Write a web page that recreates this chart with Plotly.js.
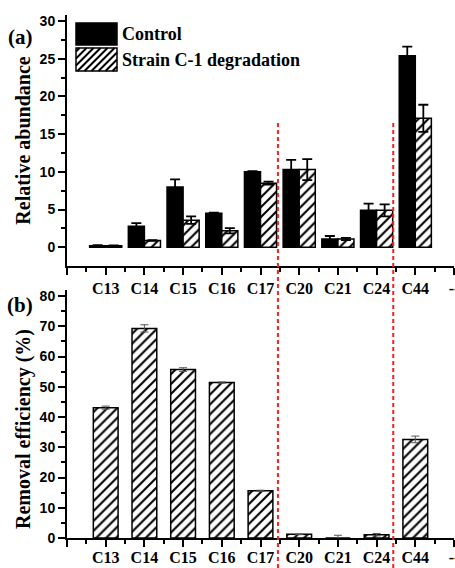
<!DOCTYPE html>
<html>
<head>
<meta charset="utf-8">
<script src="https://cdn.plot.ly/plotly-3.0.1.min.js"></script>
<style>html,body{margin:0;padding:0;background:#fff;}#chart{width:455px;height:568px;}</style>
</head>
<body>
<div id="chart"></div>
<script>
// ---- data ----
var categories = ['C13', 'C14', 'C15', 'C16', 'C17', 'C20', 'C21', 'C24', 'C44'];
var controlValues = [0.2, 2.8, 8.0, 4.5, 10.0, 10.3, 1.1, 4.9, 25.4];
var controlErrors = [0.1, 0.4, 1.0, 0.1, 0.1, 1.3, 0.4, 0.9, 1.2];
var strainValues = [0.2, 0.9, 3.6, 2.2, 8.5, 10.3, 1.1, 4.9, 17.1];
var strainErrors = [0.05, 0.05, 0.5, 0.35, 0.2, 1.4, 0.15, 0.8, 1.8];
var removalValues = [43.1, 69.3, 55.7, 51.4, 15.6, 1.2, 0, 1.1, 32.6];
var removalErrors = [0.5, 1.2, 0.6, 0.2, 0.2, 0.1, 0.9, 0.4, 1.1];
var abundanceTicks = [0, 5, 10, 15, 20, 25, 30];
var efficiencyTicks = [0, 10, 20, 30, 40, 50, 60, 70, 80];
var seriesNames = ['Control', 'Strain C-1 degradation'];
var panelLabels = ['(a)', '(b)'];
var yTitles = ['Relative abundance', 'Removal efficiency (%)'];
var edgeTickText = ['', '--'];
var dividerPositions = [5.45, 8.43];

// ---- derived positions ----
var xPos = categories.map(function (c, i) { return i + 1; });
var tickVals = [0].concat(xPos, [categories.length + 1]);
var tickText = [edgeTickText[0]].concat(categories, [edgeTickText[1]]);

var serif = "'Liberation Serif', 'Times New Roman', serif";
var sans = "'Liberation Sans', Arial, sans-serif";
var hatch = { shape: '/', fgcolor: '#000', bgcolor: '#fff', size: 7, solidity: 0.3 };

var traces = [
  {
    type: 'bar', name: seriesNames[0], x: xPos, y: controlValues,
    xaxis: 'x', yaxis: 'y',
    marker: { color: '#000', line: { color: '#000', width: 1.5 } },
    error_y: { type: 'data', array: controlErrors, visible: true, color: '#000', thickness: 1.8, width: 5 },
    showlegend: false
  },
  {
    type: 'bar', name: seriesNames[1], x: xPos, y: strainValues,
    xaxis: 'x', yaxis: 'y',
    marker: { color: '#fff', pattern: hatch, line: { color: '#000', width: 1.5 } },
    error_y: { type: 'data', array: strainErrors, visible: true, color: '#000', thickness: 1.8, width: 5 },
    showlegend: false
  },
  {
    type: 'bar', name: 'Removal efficiency', x: xPos, y: removalValues,
    xaxis: 'x2', yaxis: 'y2', width: 0.64,
    marker: { color: '#fff', pattern: hatch, line: { color: '#000', width: 1.5 } },
    error_y: { type: 'data', array: removalErrors, visible: true, color: '#555', thickness: 1, width: 4 },
    showlegend: false
  }
];

// ---- layout helpers (pixel -> paper) ----
var L = 67, R = 1, T = 15, B = 30, W = 455, H = 568;
var pw = W - L - R, ph = H - T - B;
function px(x) { return (x - L) / pw; }
function py(y) { return (H - B - y) / ph; }

function hatchPath(X0, Y0, X1, Y1, s) {
  var d = '';
  for (var c = X0 + Y0 + s / 2; c < X1 + Y1; c += s) {
    var bx, by, tx, ty;
    if (c - Y1 < X0) { bx = X0; by = c - X0; } else { bx = c - Y1; by = Y1; }
    if (c - Y0 > X1) { tx = X1; ty = c - X1; } else { tx = c - Y0; ty = Y0; }
    d += 'M' + px(bx).toFixed(5) + ',' + py(by).toFixed(5) + 'L' + px(tx).toFixed(5) + ',' + py(ty).toFixed(5);
  }
  return d;
}

var axisCommon = {
  showline: true, linecolor: '#000', linewidth: 2, showgrid: false, zeroline: false,
  ticks: 'outside', tickcolor: '#000', tickwidth: 2, ticklen: 7,
  ticklabeloverflow: 'allow'
};

var xCommon = Object.assign({}, axisCommon, {
  range: [0, categories.length + 1], tickmode: 'array', tickvals: tickVals, ticktext: tickText,
  tickfont: { family: serif, size: 16, color: '#000', weight: 'bold' },
  minor: { ticks: 'outside', tick0: 0, dtick: 0.5, ticklen: 4, tickwidth: 2, tickcolor: '#000' }
});

var yFont = { family: sans, size: 14, color: '#000', weight: 'bold' };
var titleFont = { family: serif, size: 20, color: '#000', weight: 'bold' };
var pad = '\u00a0\u00a0\u00a0\u00a0\u00a0\u00a0\u200b';

var layout = {
  width: W, height: H,
  margin: { l: L, r: R, t: T, b: B },
  paper_bgcolor: '#fff', plot_bgcolor: '#fff',
  barmode: 'group', bargap: 0.17, bargroupgap: 0,
  showlegend: false,
  xaxis: Object.assign({}, xCommon, { domain: [0, 1], anchor: 'y', ticklabelstandoff: 0 }),
  yaxis: Object.assign({}, axisCommon, {
    domain: [py(266), 1], anchor: 'x', range: [-2.48, 30.8],
    tickmode: 'array', tickvals: abundanceTicks, ticktext: abundanceTicks.map(String),
    tickfont: yFont, minor: { ticks: 'outside', tick0: 0, dtick: 2.5, ticklen: 4, tickwidth: 2, tickcolor: '#000' },
    title: { text: yTitles[0], font: titleFont, standoff: 4 }
  }),
  xaxis2: Object.assign({}, xCommon, { domain: [0, 1], anchor: 'y2', ticklabelstandoff: -3 }),
  yaxis2: Object.assign({}, axisCommon, {
    domain: [0, py(290)], anchor: 'x2', range: [0, 82],
    tickmode: 'array', tickvals: efficiencyTicks, ticktext: efficiencyTicks.map(String),
    tickfont: yFont, minor: { ticks: 'outside', tick0: 0, dtick: 5, ticklen: 4, tickwidth: 2, tickcolor: '#000' },
    title: { text: yTitles[1] + pad, font: titleFont, standoff: 4 }
  }),
  shapes: [],
  annotations: []
};

// divider lines
dividerPositions.forEach(function (xv) {
  layout.shapes.push({
    type: 'line', xref: 'x', yref: 'paper', x0: xv, x1: xv, y0: py(123), y1: py(568),
    line: { color: '#ff1e1e', width: 2, dash: '4px,3px' }
  });
});

// legend boxes
layout.shapes.push({
  type: 'rect', xref: 'paper', yref: 'paper', x0: px(76), x1: px(117), y0: py(45), y1: py(23),
  fillcolor: '#000', line: { color: '#000', width: 1.5 }
});
layout.shapes.push({
  type: 'rect', xref: 'paper', yref: 'paper', x0: px(76), x1: px(117), y0: py(71), y1: py(48),
  fillcolor: '#fff', line: { color: '#000', width: 1.5 }
});
layout.shapes.push({
  type: 'path', xref: 'paper', yref: 'paper', path: hatchPath(76, 48, 117, 71, 7),
  line: { color: '#000', width: 2 }
});

var legFont = { family: serif, size: 18, color: '#000', weight: 'bold' };
layout.annotations.push({ xref: 'paper', yref: 'paper', x: px(120), y: py(34), xanchor: 'left', yanchor: 'middle', text: seriesNames[0], showarrow: false, font: legFont });
layout.annotations.push({ xref: 'paper', yref: 'paper', x: px(120), y: py(59.5), xanchor: 'left', yanchor: 'middle', text: seriesNames[1], showarrow: false, font: legFont });

var panelFont = { family: serif, size: 21, color: '#000', weight: 'bold' };
layout.annotations.push({ xref: 'paper', yref: 'paper', x: px(20), y: py(37), xanchor: 'center', yanchor: 'middle', text: panelLabels[0], showarrow: false, font: panelFont });
layout.annotations.push({ xref: 'paper', yref: 'paper', x: px(20), y: py(305), xanchor: 'center', yanchor: 'middle', text: panelLabels[1], showarrow: false, font: panelFont });

Plotly.newPlot('chart', traces, layout, { displayModeBar: false, staticPlot: true });
</script>
</body>
</html>
